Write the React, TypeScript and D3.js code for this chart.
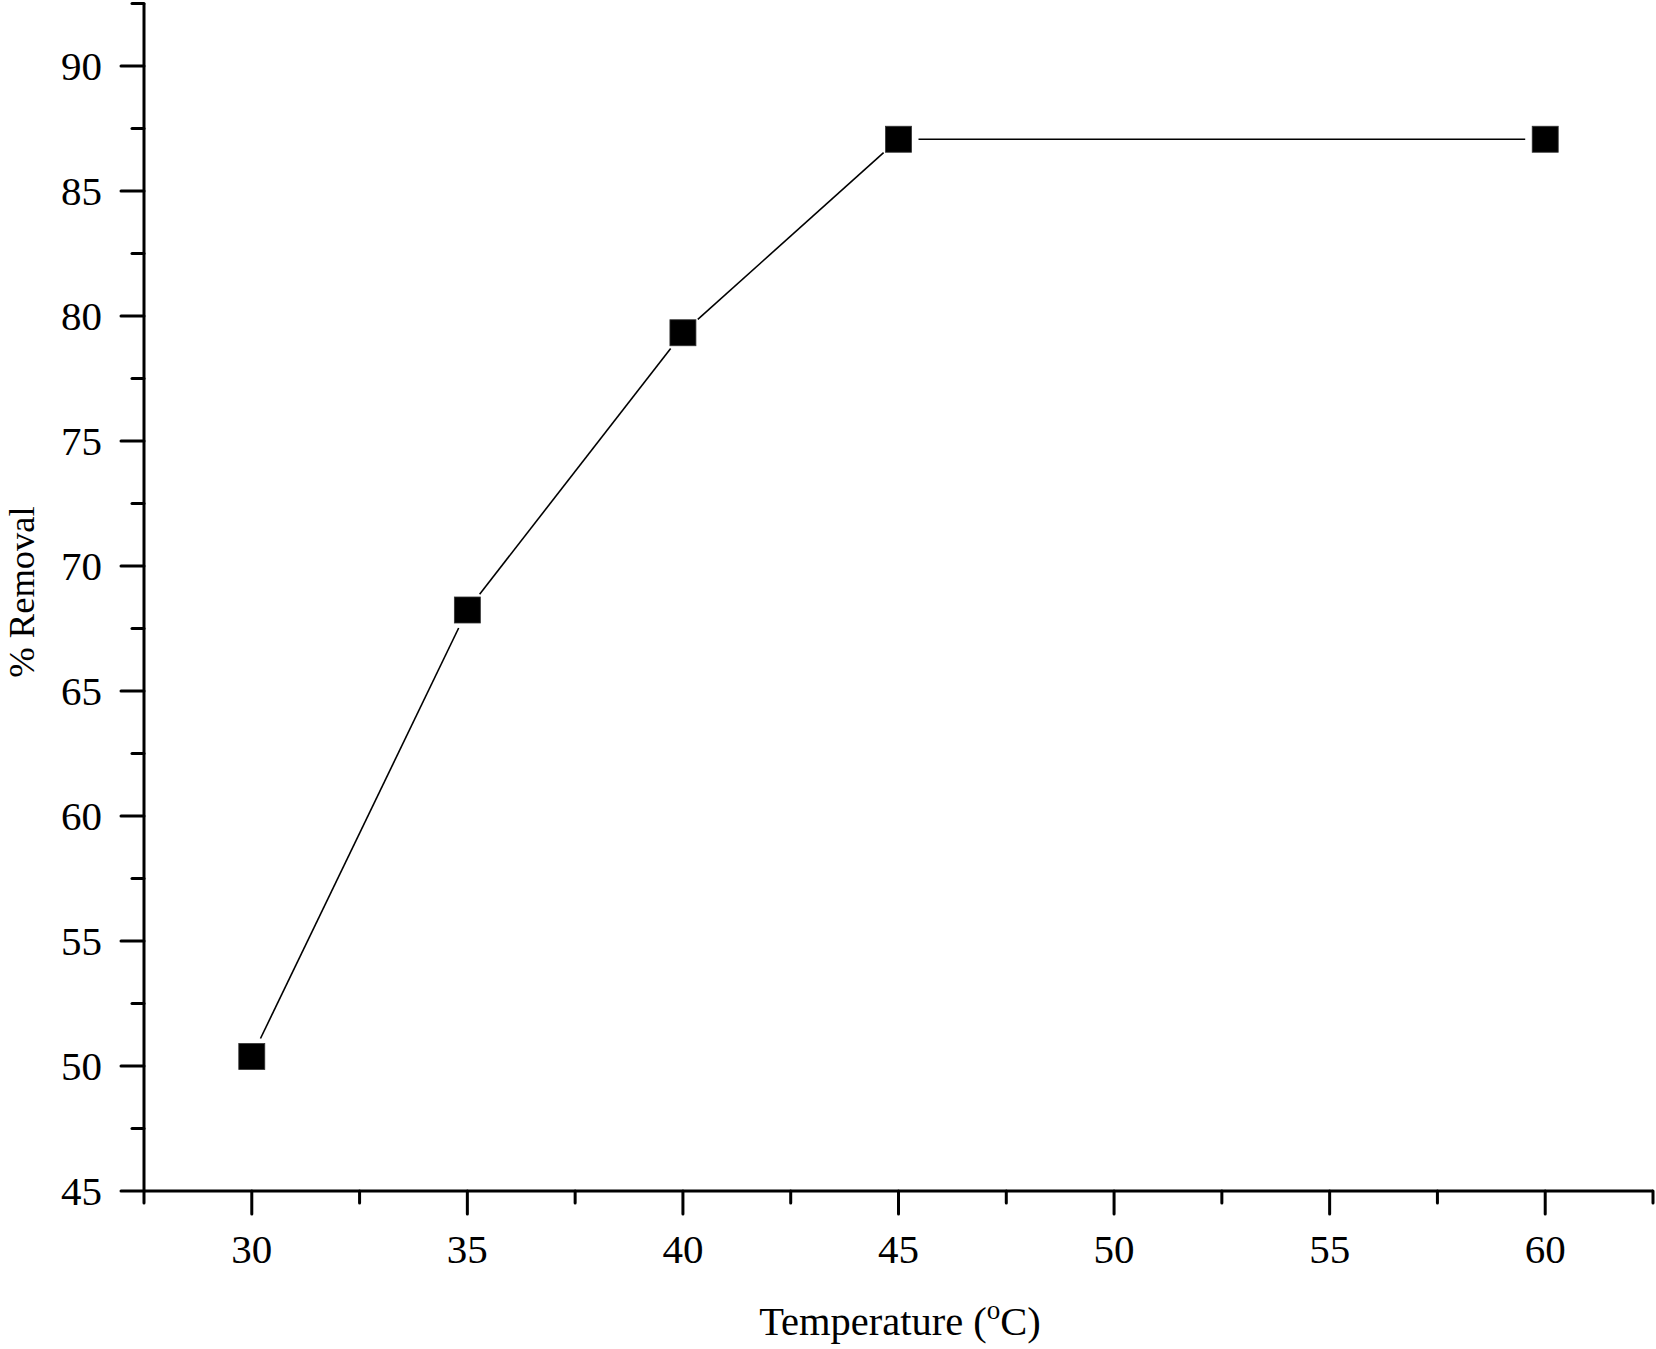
import React from "react";
import * as d3 from "d3";

const temperatures = [30, 35, 40, 45, 60];
const removal = [50.38, 68.24, 79.33, 87.07, 87.07];
const xMajorTicks = [30, 35, 40, 45, 50, 55, 60];
const xMinorTicks = [27.5, 32.5, 37.5, 42.5, 47.5, 52.5, 57.5, 62.5];
const yMajorTicks = [45, 50, 55, 60, 65, 70, 75, 80, 85, 90];
const yMinorTicks = [47.5, 52.5, 57.5, 62.5, 67.5, 72.5, 77.5, 82.5, 87.5, 92.5];

const W = 1656;
const H = 1349;
const FONT = "'Liberation Serif', 'Times New Roman', serif";

export default function App() {
  const x = d3.scaleLinear().domain([27.5, 62.5]).range([144, 1653]);
  const y = d3.scaleLinear().domain([45, 92.5]).range([1191, 3.5]);
  const x0 = x.range()[0];
  const y0 = y.range()[0];
  const pts = temperatures.map((t, i) => [x(t), y(removal[i])] as [number, number]);
  const gap = 20;
  const segs = pts.slice(0, -1).map((p, i) => {
    const q = pts[i + 1];
    const dx = q[0] - p[0];
    const dy = q[1] - p[1];
    const len = Math.hypot(dx, dy);
    const ux = dx / len;
    const uy = dy / len;
    return [p[0] + ux * gap, p[1] + uy * gap, q[0] - ux * gap, q[1] - uy * gap];
  });
  const sq = 26;
  return (
    <div style={{ position: "absolute", left: 0, top: 0 }}>
      <svg width={W} height={H} style={{ display: "block", background: "#fff" }}>
        <rect x={0} y={0} width={W} height={H} fill="#fff" />
        <line x1={x0} x2={x0} y1={y.range()[1]} y2={y0} stroke="#000" strokeWidth={3} />
        <line x1={x0} x2={x.range()[1]} y1={y0} y2={y0} stroke="#000" strokeWidth={3} />
        {yMajorTicks.map((v) => (
          <g key={"ym" + v}>
            <line x1={x0 - 23} x2={x0} y1={y(v)} y2={y(v)} stroke="#000" strokeWidth={3} strokeLinecap="round" />
            <text x={102} y={y(v)} dy="0.34em" textAnchor="end" fontFamily={FONT} fontSize={41} fill="#000">
              {v}
            </text>
          </g>
        ))}
        {yMinorTicks.map((v) => (
          <line key={"yn" + v} x1={x0 - 12} x2={x0} y1={y(v)} y2={y(v)} stroke="#000" strokeWidth={3} strokeLinecap="round" />
        ))}
        {xMajorTicks.map((v) => (
          <g key={"xm" + v}>
            <line x1={x(v)} x2={x(v)} y1={y0} y2={y0 + 23} stroke="#000" strokeWidth={3} strokeLinecap="round" />
            <text x={x(v)} y={1263} textAnchor="middle" fontFamily={FONT} fontSize={41} fill="#000">
              {v}
            </text>
          </g>
        ))}
        {xMinorTicks.map((v) => (
          <line key={"xn" + v} x1={x(v)} x2={x(v)} y1={y0} y2={y0 + 12} stroke="#000" strokeWidth={3} strokeLinecap="round" />
        ))}
        {segs.map((s, i) => (
          <line key={"s" + i} x1={s[0]} y1={s[1]} x2={s[2]} y2={s[3]} stroke="#000" strokeWidth={1.6} />
        ))}
        {pts.map((p, i) => (
          <rect key={"p" + i} x={p[0] - sq / 2} y={p[1] - sq / 2} width={sq} height={sq} fill="#000" stroke="#333" strokeWidth={0.8} />
        ))}
        <text x={900} y={1335} textAnchor="middle" fontFamily={FONT} fontSize={40.5} fill="#000">
          Temperature (
          <tspan fontSize={27} dy={-16}>o</tspan>
          <tspan dy={16}>C)</tspan>
        </text>
        <text
          transform={`translate(34, 592) rotate(-90)`}
          textAnchor="middle"
          fontFamily={FONT}
          fontSize={36.5}
          fill="#000"
        >
          % Removal
        </text>
      </svg>
    </div>
  );
}
